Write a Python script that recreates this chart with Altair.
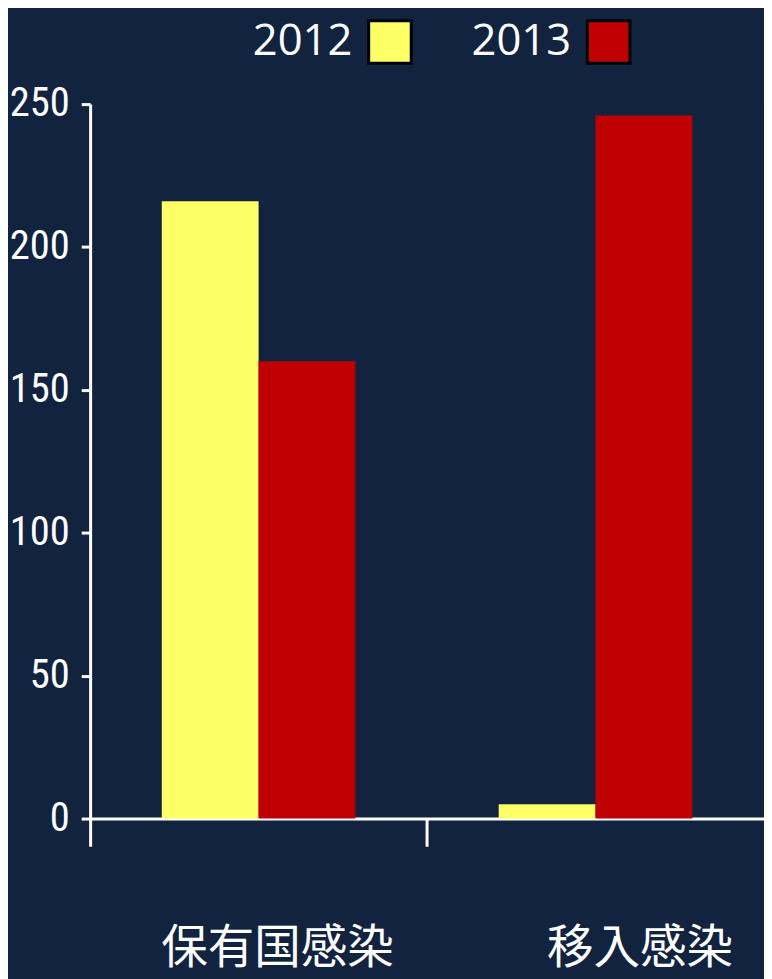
import altair as alt
import pandas as pd

categories = ["保有国感染", "移入感染"]
years = ["2012", "2013"]
values_2012 = [216, 5]
values_2013 = [160, 246]
y_ticks = [0, 50, 100, 150, 200, 250]

rows = []
for i, c in enumerate(categories):
    rows.append({"category": c, "year": years[0], "value": values_2012[i]})
    rows.append({"category": c, "year": years[1], "value": values_2013[i]})
df = pd.DataFrame(rows)

BG = "#12233f"

chart = alt.Chart(df).mark_bar().encode(
    x=alt.X(
        "category:N",
        sort=categories,
        scale=alt.Scale(paddingInner=0, paddingOuter=0),
        axis=alt.Axis(
            title=None,
            labelAngle=0,
            bandPosition=0,
            domainColor="white",
            domainWidth=3,
            tickColor="white",
            tickWidth=3,
            tickSize=28,
            labelColor="white",
            labelFont="Noto Sans CJK JP",
            labelFontSize=47,
            labelPadding=80,
            labelLimit=400,
            labelBaseline="top",
            labelOffset={"condition": {"test": "datum.value == '移入感染'", "value": 45}, "value": 19},
        ),
    ),
    xOffset=alt.XOffset("year:N", sort=years, scale=alt.Scale(paddingInner=0, paddingOuter=0.74)),
    y=alt.Y(
        "value:Q",
        scale=alt.Scale(domain=[0, 250], nice=False),
        axis=alt.Axis(
            title=None,
            values=y_ticks,
            grid=False,
            domainColor="white",
            domainWidth=3,
            tickColor="white",
            tickWidth=3,
            tickSize=9,
            labelColor="white",
            labelFont="Roboto Condensed, Liberation Sans Narrow, DejaVu Sans Condensed, Noto Sans",
            labelFontSize=41,
            labelFontWeight=400,
            labelPadding=12,
        ),
    ),
    color=alt.Color(
        "year:N",
        sort=years,
        scale=alt.Scale(domain=years, range=["#FFFF66", "#C00000"]),
        legend=alt.Legend(
            title=None,
            orient="none",
            direction="horizontal",
            legendX=280,
            legendY=-86,
            symbolType="square",
            symbolSize=1849,
            symbolStrokeColor="black",
            symbolStrokeWidth=3,
            symbolOpacity=1,
            labelColor="white",
            labelFont="Open Sans",
            labelFontSize=44,
            labelAlign="right",
            labelOffset={"expr": "-61"},
            columnPadding=54,
            labelLimit=300,
        ),
    ),
).properties(
    width=681,
    height=722,
    background=BG,
    padding={"left": 83, "top": 92, "right": 0, "bottom": 157},
    autosize=alt.AutoSizeParams(type="none"),
).configure_view(stroke=None, fill=BG)

chart.save("out.html", embed_options={"renderer": "svg", "actions": False})
